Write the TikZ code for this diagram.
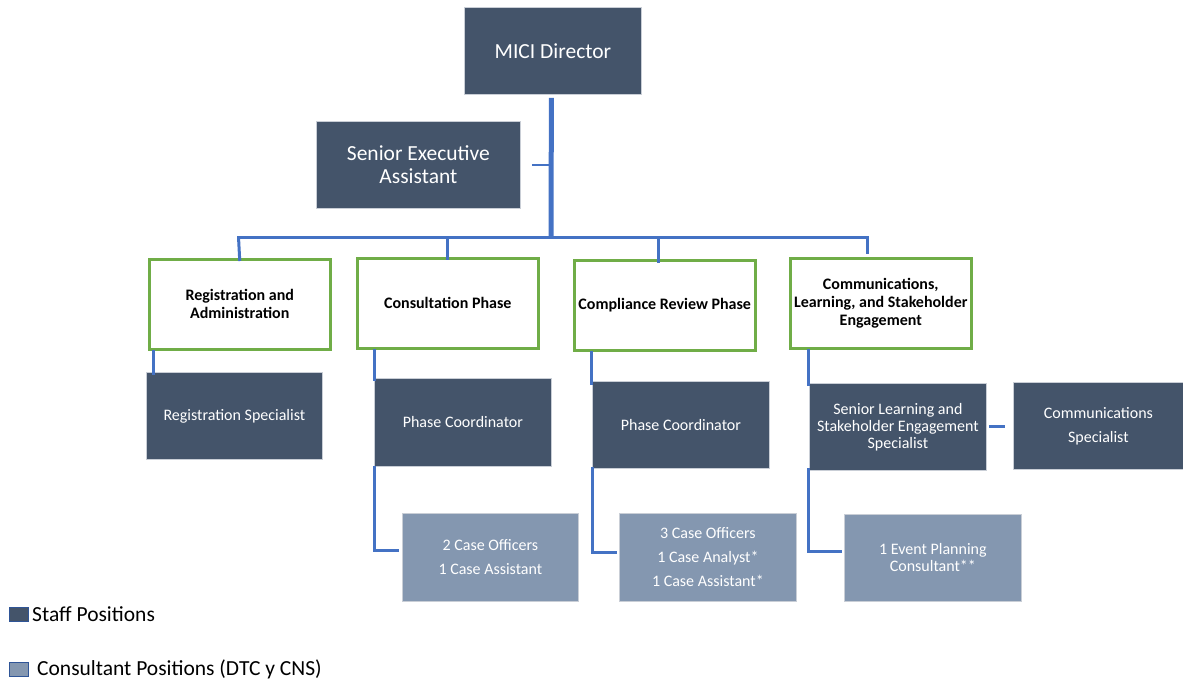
\documentclass[tikz,border=0pt]{standalone}
\usepackage{fontspec}
\setmainfont{Carlito}
\definecolor{staffc}{HTML}{44546A}
\definecolor{consc}{HTML}{8497B0}
\definecolor{greenc}{HTML}{70AD47}
\definecolor{bluec}{HTML}{4472C4}
\definecolor{edgec}{HTML}{C9CED6}
\definecolor{legedge}{HTML}{2F5597}
\begin{document}
\begin{tikzpicture}[x=1pt,y=-1pt,
  box/.style={anchor=north west, inner sep=0pt, align=center, text=white},
  staff/.style={box, fill=staffc, draw=edgec, line width=0.8pt, font=\fontsize{16}{17}\selectfont},
  cons/.style={box, fill=consc, draw=edgec, line width=0.8pt, font=\fontsize{16}{24}\selectfont},
  unit/.style={anchor=north west, inner sep=0pt, align=center, draw=greenc, line width=2.5pt, fill=white, text=black, font=\bfseries\fontsize{16}{18}\selectfont},
  conn/.style={draw=bluec, line width=3pt},
  legbox/.style={fill=#1, draw=legedge, line width=1pt, minimum width=19pt, minimum height=14pt, inner sep=0pt, anchor=north west},
  legtext/.style={anchor=west, inner sep=0pt, font=\fontsize{21.5}{24}\selectfont}
]
\useasboundingbox (0,0) rectangle (1183,683);

% top level
\node[staff, minimum width=177pt, minimum height=87pt, font=\fontsize{21.5}{24}\selectfont] (dir) at (464,7) {MICI Director};
\node[staff, minimum width=204pt, minimum height=87pt, font=\fontsize{21.5}{23}\selectfont] (sea) at (316,121) {Senior Executive\\Assistant};

% units
\node[unit, minimum width=181pt, minimum height=90pt] (reg) at (148,258) {Registration and\\Administration};
\node[unit, minimum width=181pt, minimum height=90pt] (con) at (356,257) {Consultation Phase};
\node[unit, minimum width=181pt, minimum height=90pt] (cmp) at (573,259) {Compliance Review Phase};
\node[unit, minimum width=181pt, minimum height=90pt] (com) at (789,257) {Communications,\\Learning, and Stakeholder\\Engagement};

% staff boxes
\node[staff, minimum width=176pt, minimum height=87pt] (regs) at (146,372) {Registration Specialist};
\node[staff, minimum width=177pt, minimum height=88pt] (conpc) at (374,378) {Phase Coordinator};
\node[staff, minimum width=177pt, minimum height=87pt] (cmppc) at (592,381) {Phase Coordinator};
\node[staff, minimum width=177pt, minimum height=87pt] (sls) at (809,383) {Senior Learning and\\Stakeholder Engagement\\Specialist};
\node[staff, minimum width=170pt, minimum height=87pt, font=\fontsize{16}{24}\selectfont] (cs) at (1013,382) {Communications\\Specialist};

% consultant boxes
\node[cons, minimum width=176pt, minimum height=88pt] (conco) at (402,513) {2 Case Officers\\1 Case Assistant};
\node[cons, minimum width=177pt, minimum height=88pt] (cmpco) at (619,513) {3 Case Officers\\1 Case Analyst*\\1 Case Assistant*};
\node[cons, minimum width=177pt, minimum height=87pt, font=\fontsize{16}{17}\selectfont] (ep) at (844,514) {1 Event Planning\\Consultant**};

% connectors
\coordinate (bus) at (551,237);
\coordinate (busL) at (238.5,237);
\coordinate (busR) at (867,237);
\draw[conn, line width=5pt] ([xshift=-1.5pt,yshift=-3pt]dir.south) -- ([yshift=1pt]bus);
\draw[conn, line width=2.5pt] ([xshift=11pt]sea.east) -- (sea.east -| bus);
\draw[conn] ([xshift=-1.5pt]busL) -- ([xshift=1.5pt]busR);
\draw[conn] (busL) -- ([yshift=-3pt]reg.north);
\draw[conn] (con.north |- bus) -- ([yshift=-3pt]con.north);
\draw[conn] ([xshift=-6.5pt]cmp.north |- bus) -- ([xshift=-6.5pt,yshift=-4pt]cmp.north);
\draw[conn] (busR) -- (busR |- 0,254);

\draw[conn] ([xshift=5pt,yshift=1pt]reg.south west) -- ([xshift=7pt,yshift=-3pt]regs.north west);
\draw[conn] ([xshift=18pt,yshift=1pt]con.south west) -- ([yshift=-3pt]conpc.north west);
\draw[conn] ([xshift=18pt,yshift=1pt]cmp.south west) -- ([xshift=-1pt,yshift=-4pt]cmppc.north west);
\draw[conn] ([xshift=19pt,yshift=1pt]com.south west) -- ([xshift=-1pt,yshift=-3pt]sls.north west);

\draw[conn] ([yshift=1pt]conpc.south west) -- (conpc.south west |- 0,550) -- ([xshift=-3pt]conco.west |- 0,550);
\draw[conn] ([yshift=2pt]cmppc.south west) -- (cmppc.south west |- 0,552) -- ([xshift=-2pt]cmpco.west |- 0,552);
\draw[conn] ([xshift=-1pt,yshift=3pt]sls.south west) -- ([xshift=-1pt]sls.south west |- 0,551) -- ([xshift=-2pt]ep.west |- 0,551);
\draw[conn] ([xshift=2pt]sls.east) -- ([xshift=-8pt]cs.west |- sls.east);

% legend
\node[legbox=staffc] (l1) at (9,607) {};
\node[legtext] (l1t) at (32,614) {Staff Positions};
\node[legbox=consc] (l2) at (9,662) {};
\node[legtext] (l2t) at (37,669) {Consultant Positions (DTC y CNS)};
\end{tikzpicture}
\end{document}
